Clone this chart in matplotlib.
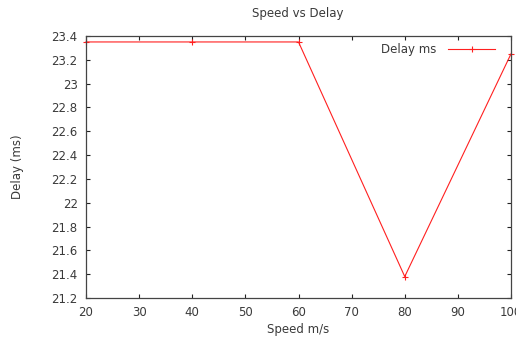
import matplotlib
matplotlib.use("Agg")
import matplotlib.pyplot as plt

# measured delay at each speed
speed = [20, 40, 60, 80, 100]
delay = [23.35, 23.35, 23.35, 21.38, 23.25]

x_ticks = [20, 30, 40, 50, 60, 70, 80, 90, 100]
y_ticks = [21.2, 21.4, 21.6, 21.8, 22, 22.2, 22.4, 22.6, 22.8, 23, 23.2, 23.4]
y_labels = ["21.2", "21.4", "21.6", "21.8", "22", "22.2", "22.4", "22.6",
            "22.8", "23", "23.2", "23.4"]

txt = "#3a3a3a"
plt.rcParams["font.family"] = "DejaVu Sans"
plt.rcParams["font.size"] = 8.5

fig = plt.figure(figsize=(5.16, 3.37), dpi=100)
ax = fig.add_axes([86 / 516, 1 - 298 / 337, 425 / 516, 262 / 337])

ax.plot(speed, delay, color="#ff2020", lw=0.8, marker="+", ms=4.5, mew=0.8,
        label="Delay ms", clip_on=False)

ax.set_xlim(20, 100)
ax.set_ylim(21.2, 23.4)
ax.set_xticks(x_ticks)
ax.set_yticks(y_ticks)
ax.set_yticklabels(y_labels)
ax.tick_params(direction="in", length=3, width=0.8, top=True, right=True,
               colors="#222222", labelcolor=txt, pad=6)
for s in ax.spines.values():
    s.set_color("#444444")
    s.set_linewidth(0.9)

fig.text(298 / 516, 1 - 14 / 337, "Speed vs Delay", color=txt,
         ha="center", va="center")
ax.set_xlabel("Speed m/s", color=txt, va="center")
ax.xaxis.set_label_coords(0.5, -0.122)
ax.set_ylabel("Delay (ms)", color=txt, va="center")
ax.yaxis.set_label_coords(-0.16, 0.5)

leg = ax.legend(loc="upper right", frameon=False, markerfirst=False,
                handlelength=4.0, borderaxespad=0.2, handletextpad=1.0,
                bbox_to_anchor=(0.98, 1.0))
for t in leg.get_texts():
    t.set_color(txt)

fig.savefig("out.png", dpi=100)
